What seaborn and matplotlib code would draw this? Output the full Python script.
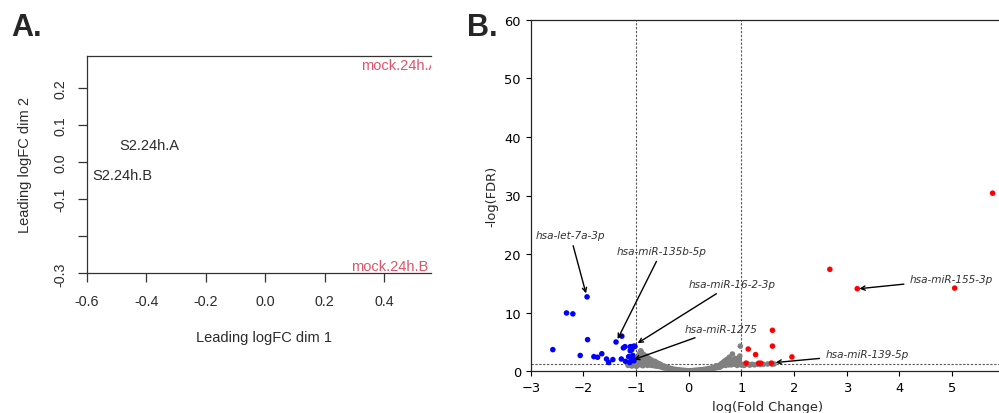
import matplotlib
matplotlib.use("Agg")
import matplotlib.pyplot as plt
import pandas as pd
import seaborn as sns

# Panel A: MDS plot, sample labels only
mds_labels = ["S2.24h.A", "S2.24h.B", "mock.24h.A", "mock.24h.B"]
mds_dim1 = [-0.39, -0.479, 0.452, 0.417]
mds_dim2 = [0.045, -0.035, 0.262, -0.281]
mds_group = ["S2", "S2", "mock", "mock"]
mds_xticks = [-0.6, -0.4, -0.2, 0.0, 0.2, 0.4]
mds_yticks = [0.2, 0.1, 0.0, -0.1, -0.2, -0.3]
mds_ytick_labels = ["0.2", "0.1", "0.0", "-0.1", "", "-0.3"]

# Panel B: volcano plot
down_fc = [-1.93, -2.32, -2.20, -1.92, -2.58, -2.06, -1.80, -1.73, -1.65, -1.56,
           -1.52, -1.44, -1.38, -1.27, -1.24, -1.21, -1.28, -1.20, -1.14, -1.11,
           -1.08, -1.04, -1.11, -1.08, -1.06, -1.09, -1.04, -1.02, -1.12, -1.06]
down_fdr = [12.7, 9.95, 9.8, 5.4, 3.7, 2.7, 2.5, 2.4, 3.0, 2.1,
            1.5, 2.0, 5.0, 6.0, 4.0, 4.2, 2.1, 1.7, 2.5, 4.2,
            4.2, 4.3, 3.5, 3.7, 2.7, 1.9, 1.8, 4.25, 1.5, 2.2]
up_fc = [5.77, 2.68, 3.20, 5.05, 1.59, 1.59, 1.13, 1.27, 1.96, 1.09,
         1.33, 1.37, 1.57]
up_fdr = [30.4, 17.4, 14.1, 14.2, 7.0, 4.3, 3.8, 2.85, 2.45, 1.4,
          1.38, 1.38, 1.4]

# not significant, left shoulder
ns_left_fc = [-1.15, -1.12, -1.08, -1.05, -1.02, -0.99, -0.98, -0.96, -0.95, -0.94,
              -0.93, -0.91, -0.90, -0.89, -0.88, -0.87, -0.86, -0.85, -0.84, -0.83,
              -0.82, -0.80, -0.79, -0.78, -0.76, -0.75, -0.73, -0.72, -0.70, -0.69,
              -0.67, -0.66, -0.64, -0.63, -0.61, -0.60, -0.58, -0.57, -0.55, -0.53,
              -0.52, -0.50, -0.48, -0.47, -0.45, -0.43, -0.42, -0.40, -0.38, -0.36,
              -0.35, -0.33, -0.31, -0.29, -0.27, -0.25,
              -1.00, -0.97, -0.92, -0.90, -0.81, -0.77, -0.71, -0.68, -0.62, -0.56]
ns_left_fdr = [1.0, 1.15, 0.9, 1.2, 1.0, 0.85, 1.25, 1.6, 2.0, 2.6,
               3.1, 3.5, 2.3, 1.8, 1.3, 0.95, 2.9, 1.55, 2.1, 1.15,
               1.8, 2.6, 1.4, 1.0, 1.7, 2.2, 1.25, 1.55, 1.9, 1.1,
               1.4, 0.95, 1.7, 1.2, 1.0, 1.45, 0.85, 1.15, 0.95, 0.75,
               1.1, 0.8, 0.6, 0.9, 0.65, 0.5, 0.75, 0.45, 0.6, 0.35,
               0.5, 0.3, 0.42, 0.25, 0.35, 0.2,
               1.5, 2.3, 1.1, 3.3, 1.3, 2.0, 1.0, 1.2, 0.9, 1.3]
# not significant, centre and right shoulder
ns_right_fc = [-0.23, -0.21, -0.19, -0.17, -0.15, -0.13, -0.11, -0.09, -0.07, -0.05,
               -0.03, -0.01, 0.01, 0.03, 0.05, 0.07, 0.09, 0.11, 0.13, 0.15,
               0.17, 0.19, 0.21, 0.23, 0.25, 0.27, 0.29, 0.31, 0.33, 0.35,
               0.37, 0.39, 0.41, 0.43, 0.45, 0.47, 0.49, 0.51, 0.53, 0.55,
               0.57, 0.59, 0.60, 0.62, 0.63, 0.65, 0.66, 0.68, 0.69, 0.71,
               0.72, 0.74, 0.75, 0.77, 0.78, 0.80, 0.81, 0.83, 0.84, 0.86,
               0.87, 0.89, 0.90, 0.92, 0.93, 0.95, 0.96, 0.98, 0.99, 1.02,
               1.05, 1.08, 1.12, 1.16, 1.20, 1.25, 1.30, 1.36, 1.42, 1.50,
               1.58, 1.62,
               0.52, 0.58, 0.64, 0.70, 0.76, 0.82, 0.88, 0.94, 0.97, 0.85]
ns_right_fdr = [0.3, 0.18, 0.25, 0.12, 0.2, 0.1, 0.18, 0.08, 0.15, 0.06,
                0.12, 0.05, 0.1, 0.05, 0.12, 0.07, 0.15, 0.09, 0.18, 0.1,
                0.2, 0.13, 0.24, 0.16, 0.28, 0.2, 0.32, 0.25, 0.38, 0.3,
                0.45, 0.36, 0.52, 0.42, 0.6, 0.5, 0.7, 0.58, 0.8, 0.66,
                0.9, 1.1, 0.75, 1.3, 0.95, 1.5, 1.1, 1.75, 1.25, 1.4,
                2.0, 1.2, 1.6, 2.4, 1.35, 1.9, 1.1, 2.95, 1.5, 1.75,
                1.2, 2.2, 1.4, 1.0, 1.65, 1.25, 1.9, 4.3, 1.1, 1.2,
                1.0, 1.15, 1.25, 1.05, 1.2, 1.1, 1.2, 1.15, 1.2, 1.25,
                1.2, 1.25,
                0.95, 0.7, 1.2, 1.0, 1.1, 1.3, 1.6, 1.4, 2.6, 2.0]

annot_names = ["hsa-let-7a-3p", "hsa-miR-135b-5p", "hsa-miR-16-2-3p",
               "hsa-miR-1275", "hsa-miR-139-5p", "hsa-miR-155-3p"]
annot_text_x = [-2.25, -0.51, 0.82, 0.61, 3.39, 4.99]
annot_text_y = [23.3, 20.6, 14.9, 7.3, 2.95, 15.7]
annot_point_x = [-1.95, -1.35, -0.97, -1.04, 1.65, 3.24]
annot_point_y = [13.3, 5.5, 4.8, 2.0, 1.5, 14.1]

sns.set_style("ticks")
plt.rcParams["font.family"] = ["DejaVu Sans"]

fig = plt.figure(figsize=(9.99, 4.14), dpi=100)

# ---- panel A
axA = fig.add_axes([86.7 / 999, (414 - 274.3) / 414, (431 - 86.7) / 999, (274.3 - 56.7) / 414])
ink = "#2b2b2b"
pal_a = {"S2": ink, "mock": "#DF536B"}
for lab, x, y, g in zip(mds_labels, mds_dim1, mds_dim2, mds_group):
    axA.text(x, y, lab, ha="center", va="center", color=pal_a[g], fontsize=10.5,
             family="Liberation Sans", clip_on=True)
axA.set_xlim(-0.6, 0.5566)
axA.set_ylim(-0.3, 0.2865)
axA.set_xticks(mds_xticks, [f"{v:.1f}" for v in mds_xticks])
axA.set_yticks(mds_yticks, mds_ytick_labels, rotation=90, va="center")
axA.spines["right"].set_visible(False)
for s in ["left", "bottom", "top"]:
    axA.spines[s].set_color("#333333")
    axA.spines[s].set_linewidth(0.9)
axA.tick_params(direction="out", length=6.7, width=0.9, color="#333333",
                labelsize=10.3, labelcolor=ink)
axA.tick_params(axis="x", pad=8)
axA.tick_params(axis="y", pad=7)
for t in axA.get_xticklabels() + axA.get_yticklabels():
    t.set_family("Liberation Sans")
axA.set_xlabel("Leading logFC dim 1", fontsize=10.5, family="Liberation Sans", color=ink)
axA.set_ylabel("Leading logFC dim 2", fontsize=10.5, family="Liberation Sans", color=ink)
axA.xaxis.label.set_va("center")
axA.yaxis.label.set_va("center")
axA.xaxis.set_label_coords(0.515, -0.293)
axA.yaxis.set_label_coords(-0.179, 0.5)

# ---- panel B
ns_fc = ns_left_fc + ns_right_fc
ns_fdr = ns_left_fdr + ns_right_fdr
df = pd.DataFrame({
    "fc": ns_fc + down_fc + up_fc,
    "fdr": ns_fdr + down_fdr + up_fdr,
    "group": ["ns"] * len(ns_fc) + ["down"] * len(down_fc) + ["up"] * len(up_fc),
})
axB = fig.add_axes([530.7 / 999, (414 - 372.3) / 414, (1004.7 - 530.7) / 999, (372.3 - 20.7) / 414])
sns.scatterplot(data=df, x="fc", y="fdr", hue="group",
                palette={"ns": "#808080", "down": "#0000ff", "up": "#ff0000"},
                s=16, linewidth=0, legend=False, ax=axB, zorder=3)
line_kw = dict(color="#555555", lw=0.8, ls=(0, (2, 1.5)), zorder=2)
axB.axvline(-1, **line_kw)
axB.axvline(1, **line_kw)
axB.axhline(1.3, **line_kw)
for name, tx, ty, px, py in zip(annot_names, annot_text_x, annot_text_y, annot_point_x, annot_point_y):
    axB.annotate(name, xy=(px, py), xytext=(tx, ty), ha="center", va="center",
                 fontsize=7.6, style="italic", color="#333333",
                 arrowprops=dict(arrowstyle="->", color="black", lw=1, shrinkB=0))
axB.set_xlim(-3, 6)
axB.set_ylim(0, 60)
axB.set_xticks(range(-3, 6))
axB.set_yticks(range(0, 61, 10))
axB.tick_params(labelsize=9.4, colors="black")
axB.set_xlabel("log(Fold Change)", fontsize=9.4)
axB.set_ylabel("-log(FDR)", fontsize=9.4)
axB.spines["right"].set_visible(False)
for s in ["left", "bottom", "top"]:
    axB.spines[s].set_linewidth(0.9)

fig.text(11.7 / 999, 1 - 36 / 414, "A.", fontsize=22, fontweight="bold",
         family="Liberation Sans", va="baseline")
fig.text(467 / 999, 1 - 36 / 414, "B.", fontsize=22, fontweight="bold",
         family="Liberation Sans", va="baseline")

fig.savefig("out.png", dpi=100)
